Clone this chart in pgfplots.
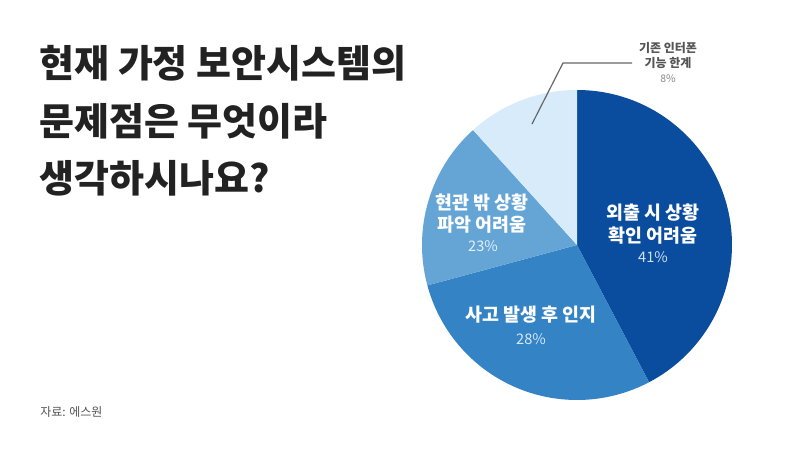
\documentclass[border=0pt]{standalone}
\usepackage{pgfplots}
\pgfplotsset{compat=1.18}
\usepackage{pgfplotstable}
\usepackage{fontspec}
\setmainfont{Noto Sans CJK KR}

\definecolor{titlecol}{HTML}{222222}
\definecolor{sliceA}{HTML}{0A4C9E}
\definecolor{sliceB}{HTML}{3383C5}
\definecolor{sliceC}{HTML}{65A5D5}
\definecolor{sliceD}{HTML}{D7EBFA}
\definecolor{pctA}{HTML}{CFE0F3}
\definecolor{pctB}{HTML}{D6E8F6}
\definecolor{pctC}{HTML}{E2EFF9}
\definecolor{leader}{HTML}{666666}
\definecolor{smalltxt}{HTML}{555555}
\definecolor{smallpct}{HTML}{8A8A8A}

% wedge sizes as drawn in the picture (labels say 41/28/23/8),
% clockwise from 12 o'clock
\pgfplotstableread[col sep=comma]{
share,fillcol
42.3,sliceA
28.5,sliceB
17.5,sliceC
11.7,sliceD
}\piedata

\begin{document}
\begin{tikzpicture}
\begin{axis}[
    width=400pt, height=225pt, scale only axis,
    xmin=0, xmax=800, ymin=0, ymax=450, y dir=reverse,
    hide axis, clip=false,
]
\pgfplotsextra{
  \path[fill=white] (axis cs:0,0) rectangle (axis cs:800,450);
  \xdef\startang{90}
  \foreach \i in {0,...,3} {
    \pgfplotstablegetelem{\i}{share}\of\piedata \let\sliceval\pgfplotsretval
    \pgfplotstablegetelem{\i}{fillcol}\of\piedata \let\slicecol\pgfplotsretval
    \pgfmathsetmacro\endang{\startang - 3.6*\sliceval}
    \fill[fill=\slicecol] (axis cs:577,245) -- ++(\startang:77.5pt)
      arc[start angle=\startang, end angle=\endang, radius=77.5pt] -- cycle;
    \xdef\startang{\endang}
  }
}

% title
\node[anchor=west, inner sep=0, text=titlecol,
  font=\fontsize{19}{22}\bfseries\selectfont] at (axis cs:39,63) {현재 가정 보안시스템의};
\node[anchor=west, inner sep=0, text=titlecol,
  font=\fontsize{19}{22}\bfseries\selectfont] at (axis cs:39,121) {문제점은 무엇이라};
\node[anchor=west, inner sep=0, text=titlecol,
  font=\fontsize{19}{22}\bfseries\selectfont] at (axis cs:39,178) {생각하시나요?};

% slice labels
\node[inner sep=0, text=white, font=\fontsize{9.2}{11}\bfseries\selectfont] at (axis cs:653,213) {외출 시 상황};
\node[inner sep=0, text=white, font=\fontsize{9.2}{11}\bfseries\selectfont] at (axis cs:653,236) {확인 어려움};
\node[inner sep=0, text=pctA, font=\fontsize{7.3}{9}\selectfont] at (axis cs:653,257) {41\%};

\node[inner sep=0, text=white, font=\fontsize{9.2}{11}\bfseries\selectfont] at (axis cs:531,315) {사고 발생 후 인지};
\node[inner sep=0, text=pctB, font=\fontsize{7.3}{9}\selectfont] at (axis cs:531,339) {28\%};

\node[inner sep=0, text=white, font=\fontsize{9.2}{11}\bfseries\selectfont] at (axis cs:482,203) {현관 밖 상황};
\node[inner sep=0, text=white, font=\fontsize{9.2}{11}\bfseries\selectfont] at (axis cs:482,225) {파악 어려움};
\node[inner sep=0, text=pctC, font=\fontsize{7.3}{9}\selectfont] at (axis cs:483,246) {23\%};

% outside label for the small slice
\draw[leader, line width=0.6pt] (axis cs:632,63) -- (axis cs:563,63) -- (axis cs:532,124);
\node[inner sep=0, text=smalltxt, font=\fontsize{6}{7}\bfseries\selectfont] at (axis cs:668,48) {기존 인터폰};
\node[inner sep=0, text=smalltxt, font=\fontsize{6}{7}\bfseries\selectfont] at (axis cs:668,63) {기능 한계};
\node[inner sep=0, text=smallpct, font=\fontsize{5.2}{6}\selectfont] at (axis cs:668,79) {8\%};

% source
\node[anchor=west, inner sep=0, text=smalltxt, font=\fontsize{6}{7}\selectfont] at (axis cs:40,412) {자료: 에스원};
\end{axis}
\end{tikzpicture}
\end{document}
